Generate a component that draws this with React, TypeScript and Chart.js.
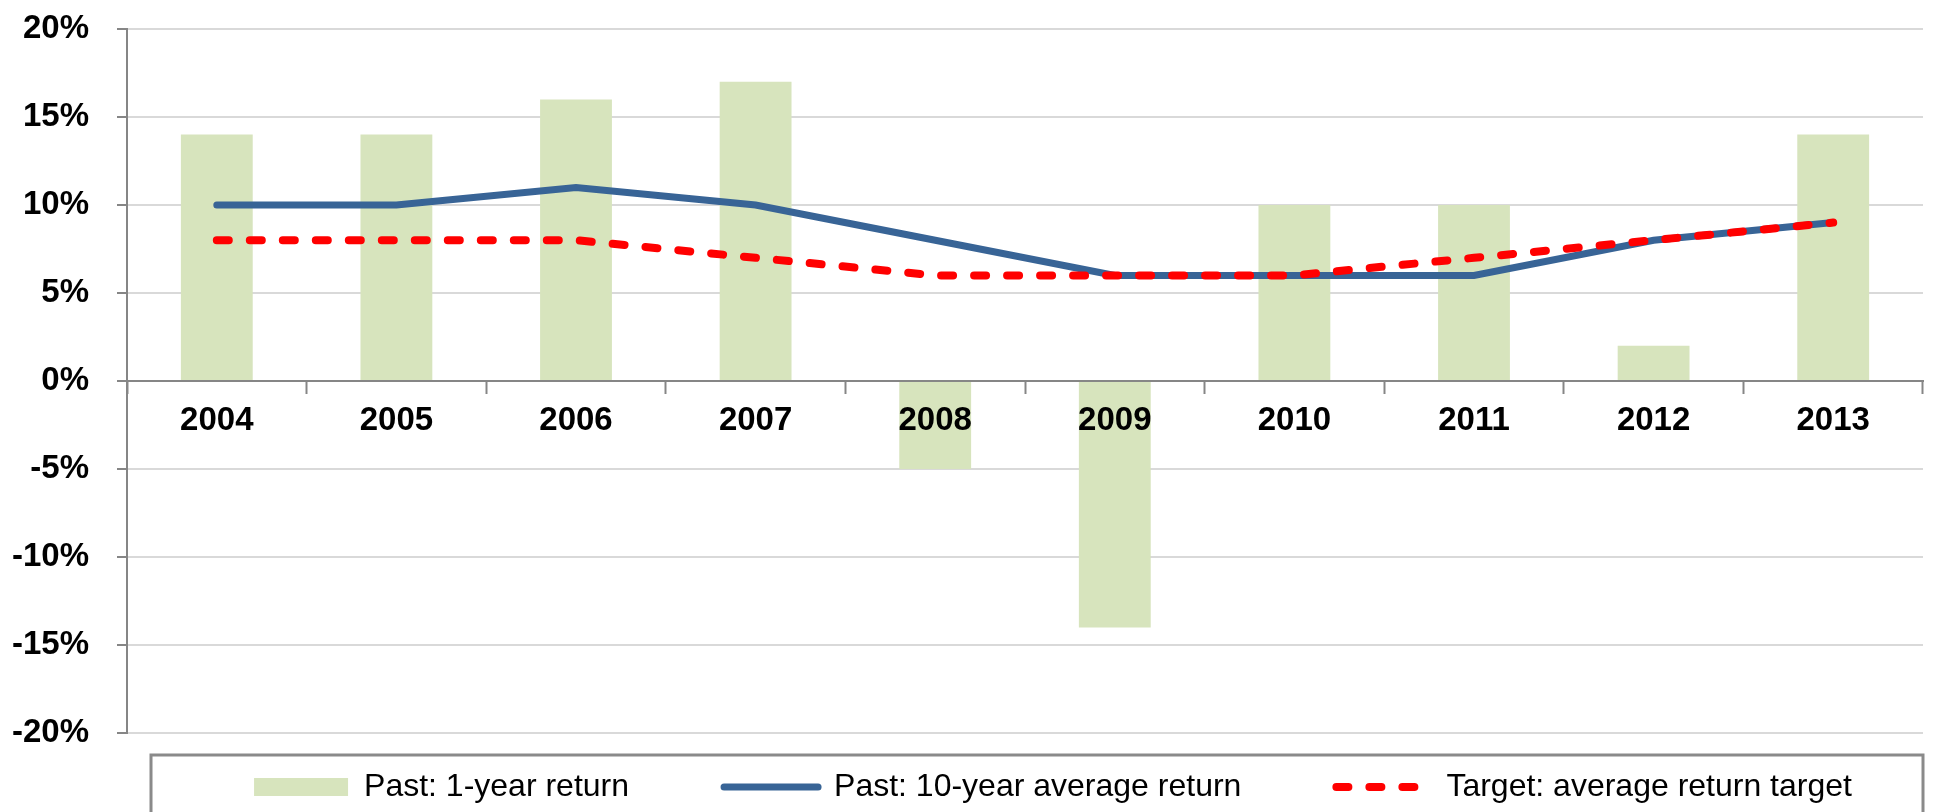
import React, { useEffect, useRef } from "react";
import { Chart, registerables } from "chart.js";

Chart.register(...registerables);

const years = ["2004", "2005", "2006", "2007", "2008", "2009", "2010", "2011", "2012", "2013"];
const oneYearReturn = [14, 14, 16, 17, -5, -14, 10, 10, 2, 14];
const tenYearAverage = [10, 10, 11, 10, 8, 6, 6, 6, 8, 9];
const returnTarget = [8, 8, 8, 7, 6, 6, 6, 7, 8, 9];
const yMin = -20;
const yMax = 20;
const yStep = 5;

const FONT = "'Liberation Sans', Arial, Helvetica, sans-serif";

const legendFrame = {
  id: "legendFrame",
  afterLayout(chart: any) {
    const lg = chart.legend;
    if (!lg) return;
    const dy = -57;
    const dx = 28;
    lg.top += dy;
    lg.bottom += dy;
    lg.left += dx;
    lg.right += dx;
  },
  afterDraw(chart: any) {
    const { ctx, chartArea } = chart;
    ctx.save();
    ctx.strokeStyle = "#8a8a8a";
    ctx.lineWidth = 3;
    ctx.strokeRect(
      chartArea.left + 24,
      chartArea.bottom + 22,
      chartArea.right - chartArea.left - 24,
      140
    );
    ctx.restore();
  },
};

export default function App() {
  const ref = useRef<HTMLCanvasElement | null>(null);

  useEffect(() => {
    if (!ref.current) return;
    const chart = new Chart(ref.current, {
      type: "bar",
      data: {
        labels: years,
        datasets: [
          {
            type: "bar",
            label: "Past: 1-year return",
            data: oneYearReturn,
            backgroundColor: "#d7e4bd",
            borderWidth: 0,
            categoryPercentage: 0.8,
            barPercentage: 0.5,
            order: 3,
          } as any,
          {
            type: "line",
            label: "Past: 10-year average return",
            data: tenYearAverage,
            borderColor: "#386496",
            backgroundColor: "#386496",
            borderWidth: 7,
            borderCapStyle: "round",
            pointRadius: 0,
            tension: 0,
            order: 2,
          } as any,
          {
            type: "line",
            label: "Target: average return target",
            data: returnTarget,
            borderColor: "#ff0000",
            backgroundColor: "#ff0000",
            borderWidth: 8,
            borderDash: [12, 21],
            borderCapStyle: "round",
            pointRadius: 0,
            tension: 0,
            order: 1,
          } as any,
        ],
      },
      options: {
        responsive: false,
        animation: false,
        events: [],
        layout: { padding: { top: 29, left: 0, right: 12, bottom: -58 } },
        scales: {
          x: {
            position: { y: 0 } as any,
            offset: true,
            grid: {
              offset: true,
              drawOnChartArea: false,
              drawTicks: true,
              tickLength: 12,
              tickColor: "#868686",
              tickWidth: 2,
              z: 1,
            },
            border: { display: true, color: "#868686", width: 2, z: 1 },
            ticks: {
              color: "#000",
              padding: 8,
              z: 1,
              font: { family: FONT, size: 33, weight: "bold" },
              maxRotation: 0,
              autoSkip: false,
            },
          },
          y: {
            min: yMin,
            max: yMax,
            afterFit: (scale: any) => {
              scale.width = 127;
              scale.paddingTop = 0;
              scale.paddingBottom = 0;
            },
            grid: {
              color: "#d9d9d9",
              lineWidth: 2,
              tickLength: 10,
              tickColor: "#868686",
              tickWidth: 2,
            },
            border: { display: true, color: "#868686", width: 2 },
            ticks: {
              stepSize: yStep,
              color: "#000",
              padding: 28,
              font: { family: FONT, size: 33, weight: "bold" },
              callback: (v: any) => `${v}%`,
            },
          },
        },
        plugins: {
          tooltip: { enabled: false },
          legend: {
            display: true,
            position: "bottom",
            fullSize: false,
            labels: {
              color: "#000",
              font: { family: FONT, size: 32 },
              usePointStyle: true,
              pointStyleWidth: 94,
              boxHeight: 18,
              padding: 95,
              generateLabels: (c: any) =>
                c.data.datasets.map((ds: any, i: number) => ({
                  text: ds.label,
                  datasetIndex: i,
                  fillStyle: ds.backgroundColor,
                  strokeStyle: ds.borderColor || ds.backgroundColor,
                  lineWidth: ds.type === "line" ? ds.borderWidth : 0,
                  lineDash: ds.borderDash || [],
                  lineCap: ds.type === "line" ? ds.borderCapStyle : "butt",
                  pointStyle: ds.type === "line" ? "line" : "rect",
                  hidden: false,
                  fontColor: "#000",
                })),
            },
          },
        },
      },
      plugins: [legendFrame],
    });
    return () => chart.destroy();
  }, []);

  return (
    <div style={{ position: "fixed", left: 0, top: 0, width: 1935, height: 812, background: "#fff" }}>
      <canvas ref={ref} width={1935} height={812} style={{ display: "block" }} />
    </div>
  );
}
